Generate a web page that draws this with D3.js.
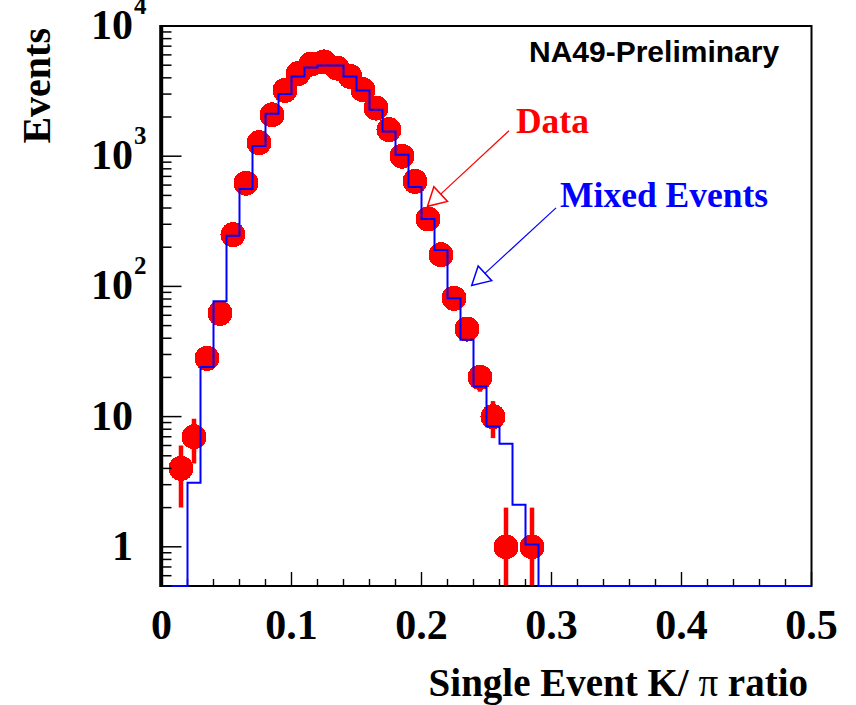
<!DOCTYPE html>
<html>
<head>
<meta charset="utf-8">
<script src="https://cdn.jsdelivr.net/npm/d3@7"></script>
<style>
  html, body { margin: 0; padding: 0; background: #fff; }
  svg { display: block; }
</style>
</head>
<body>
<svg id="chart" width="856" height="705"></svg>
<script>
// Single-event K/pi ratio: measured events (points) vs. mixed-event reference (histogram)

// Measured data: bin centres and event counts
const dataCenters = [0.015, 0.025, 0.035, 0.045, 0.055, 0.065, 0.075, 0.085, 0.095,
                     0.105, 0.115, 0.125, 0.135, 0.145, 0.155, 0.165, 0.175, 0.185,
                     0.195, 0.205, 0.215, 0.225, 0.235, 0.245, 0.255, 0.265, 0.285];
const dataCounts  = [4, 7, 28, 62, 250, 620, 1270, 2080, 3200,
                     4300, 5100, 5300, 4750, 4100, 3240, 2340, 1600, 1000,
                     640, 330, 175, 81, 47, 20, 10, 1, 1];

// Mixed events: lower bin edges (width 0.01) and contents; all other bins are empty
const mixedLowEdges = [0.02, 0.03, 0.04, 0.05, 0.06, 0.07, 0.08, 0.09, 0.10,
                       0.11, 0.12, 0.13, 0.14, 0.15, 0.16, 0.17, 0.18, 0.19,
                       0.20, 0.21, 0.22, 0.23, 0.24, 0.25, 0.26, 0.27, 0.28];
const mixedCounts   = [3.1, 24, 77, 245, 560, 1200, 2120, 3000, 4100,
                       4800, 4980, 4980, 4100, 3200, 2270, 1550, 1025, 580,
                       330, 190, 81, 39, 17, 8.4, 6.2, 2.1, 1.04];
const binWidth = 0.01;

// Axis ticks and labels
const xTickValues = [0, 0.1, 0.2, 0.3, 0.4, 0.5];
const xTickLabels = ["0", "0.1", "0.2", "0.3", "0.4", "0.5"];
const yTickValues = [1, 10, 100, 1000, 10000];
const yTickBases  = ["1", "10", "10", "10", "10"];
const yTickExps   = ["", "", "2", "3", "4"];

const xTitleParts = ["Single Event K/ ", "\u03c0", " ratio"];
const yTitle = "Events";
const tagText = "NA49-Preliminary";

// Arrow annotations (data coordinates: start, tip)
const annotations = [
  { label: "Data",         color: "#ff0000", from: [0.2673, 1567], to: [0.2046, 412], dx: 7, dy: 2 },
  { label: "Mixed Events", color: "#0000ff", from: [0.3035, 401],  to: [0.2386, 101.6], dx: 4, dy: -1 }
];

const serif = "'Liberation Serif', 'Times New Roman', Times, serif";
const sans = "'Liberation Sans', Arial, Helvetica, sans-serif";

const svg = d3.select("#chart");
const frameL = 161.5, frameR = 811.5, frameT = 26, frameB = 586;

const x = d3.scaleLinear().domain([0, 0.5]).range([frameL, frameR]);
const y = d3.scaleLog().domain([0.5, 10000]).range([frameB, frameT]).clamp(true);
const yPos = v => (v > 0 ? y(v) : frameB);

svg.append("rect").attr("width", 856).attr("height", 705).attr("fill", "#fff");

const defs = svg.append("defs");
defs.append("clipPath").attr("id", "plotClip")
  .append("rect").attr("x", frameL).attr("y", frameT)
  .attr("width", frameR - frameL).attr("height", frameB - frameT);

const plot = svg.append("g").attr("clip-path", "url(#plotClip)");

const points = dataCenters.map((c, i) => ({ c, n: dataCounts[i] }));
const yMin = y.domain()[0];

// Error bars (Poisson) under the markers
plot.append("g").selectAll("line")
  .data(points)
  .join("line")
  .attr("x1", d => x(d.c)).attr("x2", d => x(d.c))
  .attr("y1", d => y(d.n + Math.sqrt(d.n)))
  .attr("y2", d => y(Math.max(d.n - Math.sqrt(d.n), yMin)))
  .attr("stroke", "#ff0000").attr("stroke-width", 4.5);

// Markers
plot.append("g").selectAll("circle")
  .data(points)
  .join("circle")
  .attr("cx", d => x(d.c)).attr("cy", d => y(d.n))
  .attr("r", 12.5)
  .attr("fill", "#ff0000")
  .attr("shape-rendering", "crispEdges");

// Mixed-event step histogram; empty bins sit on the lower frame edge
const stepPoints = [[x.domain()[0], 0]]
  .concat(mixedLowEdges.map((e, i) => [e, mixedCounts[i]]))
  .concat([[mixedLowEdges[mixedLowEdges.length - 1] + binWidth, 0], [x.domain()[1], 0]]);
const stepPath = d3.line().x(d => x(d[0])).y(d => yPos(d[1])).curve(d3.curveStepAfter)(stepPoints);

// Frame
svg.append("rect")
  .attr("x", frameL - 0.5).attr("y", frameT)
  .attr("width", frameR - frameL + 0.5).attr("height", frameB - frameT)
  .attr("fill", "none").attr("stroke", "#000").attr("stroke-width", 2);

// X ticks (inside, pointing up)
const xAxisG = svg.append("g");
x.ticks(25).forEach(t => {
  const major = xTickValues.some(v => Math.abs(v - t) < 1e-9);
  xAxisG.append("line")
    .attr("x1", x(t)).attr("x2", x(t))
    .attr("y1", frameB).attr("y2", frameB - (major ? 14 : 7))
    .attr("stroke", "#000").attr("stroke-width", 1.4);
});
xTickValues.forEach((t, i) => {
  xAxisG.append("text")
    .attr("x", x(t)).attr("y", 639)
    .attr("text-anchor", "middle")
    .attr("font-family", serif).attr("font-weight", "bold").attr("font-size", 42)
    .text(xTickLabels[i]);
});

// Histogram drawn over the frame so empty bins show on the lower edge
svg.append("path")
  .attr("d", stepPath)
  .attr("fill", "none")
  .attr("stroke", "#0000ff")
  .attr("stroke-width", 2);

// Left axis line
svg.append("line")
  .attr("x1", frameL - 0.3).attr("x2", frameL - 0.3)
  .attr("y1", frameT - 1).attr("y2", frameB + 1)
  .attr("stroke", "#000").attr("stroke-width", 4);

// Y ticks (inside, pointing right)
const yAxisG = svg.append("g");
y.ticks().forEach(t => {
  const lg = Math.log10(t);
  const major = Math.abs(lg - Math.round(lg)) < 1e-9;
  if (t >= 10000) return;
  yAxisG.append("line")
    .attr("x1", frameL).attr("x2", frameL + (major ? 20 : 10))
    .attr("y1", y(t)).attr("y2", y(t))
    .attr("stroke", "#000").attr("stroke-width", 1.5);
});
yTickValues.forEach((t, i) => {
  yAxisG.append("text")
    .attr("x", 133).attr("y", y(t) + 13)
    .attr("text-anchor", "end")
    .attr("font-family", serif).attr("font-weight", "bold").attr("font-size", 42)
    .text(yTickBases[i]);
  if (yTickExps[i]) {
    yAxisG.append("text")
      .attr("x", 134).attr("y", y(t) - 12)
      .attr("font-family", serif).attr("font-weight", "bold").attr("font-size", 25)
      .text(yTickExps[i]);
  }
});

// Axis titles
const xTitleText = svg.append("text")
  .attr("x", 808).attr("y", 696)
  .attr("text-anchor", "end")
  .attr("font-family", serif).attr("font-weight", "bold").attr("font-size", 39);
xTitleParts.forEach((p, i) => {
  xTitleText.append("tspan")
    .attr("font-weight", i === 1 ? "normal" : "bold")
    .text(p);
});
svg.append("text")
  .attr("transform", "translate(50,28) rotate(-90)")
  .attr("text-anchor", "end")
  .attr("font-family", serif).attr("font-weight", "bold").attr("font-size", 40)
  .text(yTitle);

// Experiment tag
svg.append("text")
  .attr("x", 529).attr("y", 62)
  .attr("font-family", sans).attr("font-weight", "bold").attr("font-size", 30)
  .text(tagText);

// Annotated arrows with open triangular heads
annotations.forEach(a => {
  const sx = x(a.from[0]), sy = y(a.from[1]);
  const tx = x(a.to[0]), ty = y(a.to[1]);
  const len = Math.hypot(tx - sx, ty - sy);
  const ux = (tx - sx) / len, uy = (ty - sy) / len;
  const headLen = 18, halfW = 10;
  const bx = tx - ux * headLen, by = ty - uy * headLen;
  const g = svg.append("g");
  g.append("line")
    .attr("x1", sx).attr("y1", sy).attr("x2", bx).attr("y2", by)
    .attr("stroke", a.color).attr("stroke-width", 1.2);
  g.append("polygon")
    .attr("points", [[tx, ty], [bx - uy * halfW, by + ux * halfW], [bx + uy * halfW, by - ux * halfW]]
      .map(p => p.join(",")).join(" "))
    .attr("fill", "#fff").attr("stroke", a.color).attr("stroke-width", 1.5);
  g.append("text")
    .attr("x", sx + a.dx).attr("y", sy + a.dy)
    .attr("fill", a.color)
    .attr("font-family", serif).attr("font-weight", "bold").attr("font-size", 35.5)
    .text(a.label);
});
</script>
</body>
</html>
